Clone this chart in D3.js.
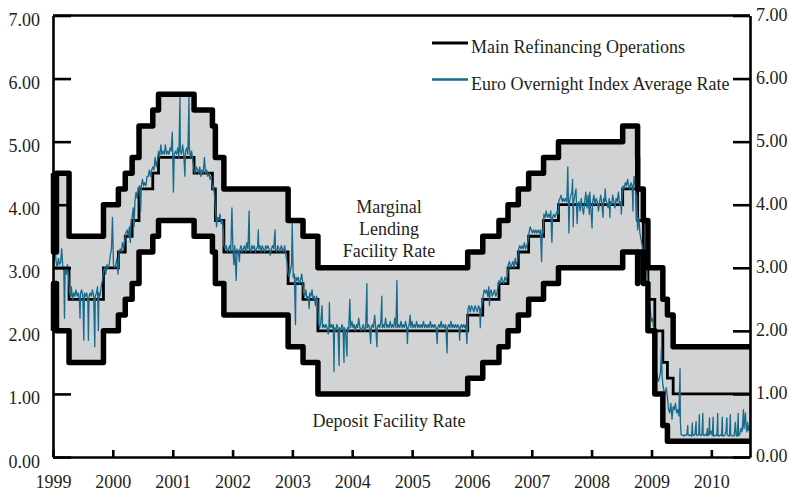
<!DOCTYPE html>
<html>
<head>
<meta charset="utf-8">
<script src="https://cdn.jsdelivr.net/npm/d3@7"></script>
<style>
  body { margin: 0; background: #fff; }
  svg text { font-family: "Liberation Serif", "DejaVu Serif", serif; fill: #231f20; }
</style>
</head>
<body>
<svg class="ecbRates" width="791" height="494"></svg>
<script>
// ECB policy rate corridor and EONIA, 1999-2010

// dates on which the official rates changed (last entry = end of chart)
var rateDates = ["1999-01-01","1999-01-04","1999-01-22","1999-04-09","1999-11-05",
    "2000-02-04","2000-03-17","2000-04-28","2000-06-09","2000-09-01","2000-10-06",
    "2001-05-11","2001-08-31","2001-09-18","2001-11-09","2002-12-06","2003-03-07","2003-06-06",
    "2005-12-06","2006-03-08","2006-06-15","2006-08-09","2006-10-11","2006-12-13",
    "2007-03-14","2007-06-13","2008-07-09","2008-10-08","2008-10-09","2008-11-12","2008-12-10",
    "2009-01-21","2009-03-11","2009-04-08","2009-05-13","2010-08-25"];
var depositRate = [2.00,2.75,2.00,1.50,2.00, 2.25,2.50,2.75,3.25,3.50,3.75,
    3.50,3.25,2.75,2.25,1.75,1.50,1.00, 1.25,1.50,1.75,2.00,2.25,2.50,
    2.75,3.00,3.25,2.75,3.25,2.75,2.00, 1.00,0.50,0.25,0.25,0.25];
var mroRate = [3.00,3.00,3.00,2.50,3.00, 3.25,3.50,3.75,4.25,4.50,4.75,
    4.50,4.25,3.75,3.25,2.75,2.50,2.00, 2.25,2.50,2.75,3.00,3.25,3.50,
    3.75,4.00,4.25,3.75,3.75,3.25,2.50, 2.00,1.50,1.25,1.00,1.00];
var marginalRate = [4.50,3.25,4.50,3.50,4.00, 4.25,4.50,4.75,5.25,5.50,5.75,
    5.50,5.25,4.75,4.25,3.75,3.50,3.00, 3.25,3.50,3.75,4.00,4.25,4.50,
    4.75,5.00,5.25,4.75,4.25,3.75,3.00, 3.00,2.50,2.25,1.75,1.75];

// Euro Overnight Index Average
var eonia = [
  ["1999-01-04",3.20],["1999-01-08",3.05],["1999-01-14",3.30],["1999-01-20",3.10],["1999-01-27",3.00],["1999-02-03",3.15],
  ["1999-02-10",3.05],["1999-02-17",3.10],["1999-02-23",3.30],["1999-03-01",3.05],["1999-03-08",2.95],["1999-03-12",2.20],
  ["1999-03-16",3.00],["1999-03-23",2.90],["1999-03-30",3.05],["1999-04-06",2.85],["1999-04-12",2.60],["1999-04-19",2.55],
  ["1999-04-23",2.70],["1999-04-30",2.50],["1999-05-07",2.60],["1999-05-14",2.55],["1999-05-21",2.65],["1999-05-28",2.55],
  ["1999-06-04",2.60],["1999-06-11",2.50],["1999-06-15",2.20],["1999-06-18",2.60],["1999-06-25",2.65],["1999-07-02",2.55],
  ["1999-07-08",1.85],["1999-07-12",2.60],["1999-07-19",2.55],["1999-07-26",2.60],["1999-08-02",2.45],["1999-08-05",1.85],
  ["1999-08-09",2.55],["1999-08-16",2.60],["1999-08-23",2.55],["1999-08-30",2.65],["1999-09-06",2.55],["1999-09-13",1.75],
  ["1999-09-16",2.55],["1999-09-23",2.60],["1999-09-30",2.70],["1999-10-05",2.00],["1999-10-08",2.60],["1999-10-15",2.55],
  ["1999-10-22",2.70],["1999-10-29",2.80],["1999-11-05",2.95],["1999-11-12",3.00],["1999-11-19",2.90],["1999-11-26",3.05],
  ["1999-12-03",3.00],["1999-12-10",3.05],["1999-12-17",3.20],["1999-12-24",3.30],["1999-12-30",3.80],
  ["2000-01-05",3.05],["2000-01-12",3.00],["2000-01-19",3.05],["2000-01-26",3.15],["2000-02-02",2.90],["2000-02-08",3.25],
  ["2000-02-15",3.30],["2000-02-22",3.25],["2000-02-29",3.40],["2000-03-07",3.30],["2000-03-14",3.45],["2000-03-21",3.55],
  ["2000-03-28",3.60],["2000-04-04",3.50],["2000-04-11",3.65],["2000-04-17",3.40],["2000-04-21",3.70],["2000-04-28",3.80],
  ["2000-05-05",3.95],["2000-05-10",3.65],["2000-05-15",4.05],["2000-05-22",4.20],["2000-05-29",4.10],["2000-06-05",4.25],
  ["2000-06-12",4.30],["2000-06-19",3.90],["2000-06-23",4.30],["2000-06-30",4.40],["2000-07-07",4.30],["2000-07-14",4.35],
  ["2000-07-21",4.30],["2000-07-28",4.45],["2000-08-04",4.45],["2000-08-11",4.55],["2000-08-18",4.45],["2000-08-25",4.55],
  ["2000-09-01",4.60],["2000-09-08",4.55],["2000-09-15",4.75],["2000-09-22",4.60],["2000-09-29",4.70],["2000-10-06",4.85],
  ["2000-10-13",4.75],["2000-10-20",4.95],["2000-10-27",4.80],["2000-11-03",4.85],["2000-11-10",4.80],["2000-11-17",4.95],
  ["2000-11-24",4.80],["2000-12-01",4.85],["2000-12-08",4.80],["2000-12-15",4.90],["2000-12-22",4.85],["2000-12-29",5.15],
  ["2001-01-05",4.20],["2001-01-10",4.80],["2001-01-17",4.85],["2001-01-24",4.80],["2001-01-31",4.90],["2001-02-07",4.75],
  ["2001-02-14",5.70],["2001-02-16",4.85],["2001-02-23",4.80],["2001-03-02",4.95],["2001-03-09",4.80],["2001-03-16",4.45],
  ["2001-03-20",4.85],["2001-03-27",4.90],["2001-04-03",4.80],["2001-04-10",5.70],["2001-04-12",4.90],["2001-04-19",4.75],
  ["2001-04-26",4.85],["2001-05-03",4.70],["2001-05-11",4.55],["2001-05-18",4.50],["2001-05-25",4.60],["2001-06-01",4.55],
  ["2001-06-08",4.50],["2001-06-15",4.60],["2001-06-22",4.45],["2001-06-29",4.55],["2001-07-06",4.50],["2001-07-13",4.75],
  ["2001-07-20",4.50],["2001-07-27",4.55],["2001-08-03",4.45],["2001-08-10",4.50],["2001-08-17",4.40],["2001-08-24",4.45],
  ["2001-08-31",4.25],["2001-09-07",4.30],["2001-09-14",4.10],["2001-09-18",3.95],["2001-09-25",3.65],["2001-10-02",3.80],
  ["2001-10-09",3.75],["2001-10-16",3.85],["2001-10-23",3.70],["2001-10-30",3.75],["2001-11-06",3.60],["2001-11-09",3.35],
  ["2001-11-16",3.30],["2001-11-23",3.35],["2001-11-30",3.25],["2001-12-07",3.30],["2001-12-14",3.35],["2001-12-21",3.25],
  ["2001-12-28",3.95],
  ["2002-01-03",3.30],["2002-01-09",3.05],["2002-01-14",3.35],["2002-01-23",2.80],["2002-01-28",3.30],["2002-02-04",3.25],
  ["2002-02-12",3.10],["2002-02-15",3.30],["2002-02-22",3.35],["2002-03-01",3.25],["2002-03-08",3.30],["2002-03-15",3.35],
  ["2002-03-22",3.25],["2002-03-29",3.40],["2002-04-05",3.30],["2002-04-12",3.90],["2002-04-15",3.30],["2002-04-22",3.25],
  ["2002-04-29",3.35],["2002-05-06",3.30],["2002-05-13",3.35],["2002-05-20",3.25],["2002-05-27",3.30],["2002-06-03",3.35],
  ["2002-06-07",3.60],["2002-06-10",3.30],["2002-06-17",3.35],["2002-06-24",3.25],["2002-07-01",3.35],["2002-07-08",3.30],
  ["2002-07-15",3.25],["2002-07-22",3.35],["2002-07-29",3.30],["2002-08-05",3.35],["2002-08-12",3.30],["2002-08-19",3.20],
  ["2002-08-26",3.30],["2002-09-02",3.35],["2002-09-09",3.30],["2002-09-17",3.60],["2002-09-20",3.30],["2002-09-27",3.25],
  ["2002-10-04",3.35],["2002-10-11",3.30],["2002-10-18",3.25],["2002-10-25",3.35],["2002-11-01",3.30],["2002-11-08",3.25],
  ["2002-11-15",3.35],["2002-11-22",3.20],["2002-11-29",3.10],["2002-12-06",2.90],["2002-12-13",2.85],["2002-12-20",2.95],
  ["2002-12-27",3.05],["2002-12-31",3.70],
  ["2003-01-06",2.85],["2003-01-13",2.90],["2003-01-20",2.10],["2003-01-23",2.85],["2003-01-30",2.80],["2003-02-06",2.85],
  ["2003-02-13",2.75],["2003-02-20",2.80],["2003-02-27",2.90],["2003-03-06",2.75],["2003-03-10",2.60],["2003-03-17",2.55],
  ["2003-03-24",2.65],["2003-03-31",2.50],["2003-04-07",2.55],["2003-04-14",2.35],["2003-04-17",2.60],["2003-04-24",2.55],
  ["2003-05-01",2.65],["2003-05-08",2.50],["2003-05-15",2.55],["2003-05-22",2.40],["2003-05-29",2.55],["2003-06-05",2.45],
  ["2003-06-10",2.10],["2003-06-17",2.05],["2003-06-24",2.15],["2003-07-01",2.40],["2003-07-04",2.05],["2003-07-11",2.10],
  ["2003-07-18",2.05],["2003-07-25",2.10],["2003-08-01",2.05],["2003-08-08",1.95],["2003-08-12",2.05],["2003-08-15",2.45],
  ["2003-08-18",2.05],["2003-08-25",2.10],["2003-09-01",2.05],["2003-09-08",2.10],["2003-09-12",1.35],["2003-09-15",2.05],
  ["2003-09-22",2.00],["2003-09-29",2.10],["2003-10-06",2.05],["2003-10-13",1.45],["2003-10-16",2.05],["2003-10-23",2.00],
  ["2003-10-30",2.10],["2003-11-06",2.05],["2003-11-12",1.50],["2003-11-14",2.05],["2003-11-21",2.00],["2003-11-30",1.60],
  ["2003-12-03",2.05],["2003-12-10",2.00],["2003-12-18",2.50],["2003-12-22",2.05],["2003-12-31",2.15],
  ["2004-01-06",2.05],["2004-01-13",2.10],["2004-01-20",2.00],["2004-01-27",2.10],["2004-02-03",2.05],["2004-02-10",2.20],
  ["2004-02-17",2.05],["2004-02-24",2.00],["2004-03-02",2.05],["2004-03-09",2.10],["2004-03-16",2.00],["2004-03-23",2.05],
  ["2004-03-31",2.75],["2004-04-02",2.05],["2004-04-09",2.10],["2004-04-16",2.05],["2004-04-23",1.80],["2004-04-26",2.05],
  ["2004-05-03",2.10],["2004-05-10",2.05],["2004-05-17",2.25],["2004-05-24",2.05],["2004-05-31",1.75],["2004-06-03",2.05],
  ["2004-06-10",2.10],["2004-06-17",2.05],["2004-06-24",2.15],["2004-06-30",2.55],["2004-07-02",2.05],["2004-07-09",2.10],
  ["2004-07-16",2.05],["2004-07-23",2.20],["2004-07-30",2.05],["2004-08-06",2.10],["2004-08-13",2.05],["2004-08-20",2.15],
  ["2004-08-27",2.05],["2004-09-03",2.10],["2004-09-10",2.05],["2004-09-17",2.20],["2004-09-24",2.05],["2004-09-30",2.80],
  ["2004-10-04",2.05],["2004-10-11",2.10],["2004-10-18",2.05],["2004-10-25",2.15],["2004-11-01",2.05],["2004-11-08",2.10],
  ["2004-11-15",2.05],["2004-11-22",2.15],["2004-11-29",2.05],["2004-12-03",1.80],["2004-12-07",2.05],["2004-12-14",2.10],
  ["2004-12-20",2.25],["2004-12-24",2.05],["2004-12-31",2.15],
  ["2005-01-07",2.05],["2005-01-14",2.10],["2005-01-21",2.05],["2005-01-28",2.15],["2005-02-04",2.05],["2005-02-11",2.10],
  ["2005-02-18",2.05],["2005-02-25",2.10],["2005-03-04",2.05],["2005-03-11",2.15],["2005-03-18",2.05],["2005-03-25",2.10],
  ["2005-04-01",2.05],["2005-04-08",2.10],["2005-04-15",2.05],["2005-04-22",2.15],["2005-04-29",2.05],["2005-05-06",2.10],
  ["2005-05-13",2.05],["2005-05-20",2.10],["2005-05-27",2.05],["2005-06-03",1.80],["2005-06-06",2.05],["2005-06-13",2.10],
  ["2005-06-20",2.05],["2005-06-27",2.15],["2005-07-04",2.05],["2005-07-11",2.10],["2005-07-18",2.05],["2005-07-25",2.10],
  ["2005-08-02",1.65],["2005-08-05",2.05],["2005-08-12",2.10],["2005-08-19",2.05],["2005-08-26",2.15],["2005-09-02",2.05],
  ["2005-09-09",2.10],["2005-09-16",2.05],["2005-09-23",2.10],["2005-09-30",2.05],["2005-10-07",2.10],["2005-10-14",2.05],
  ["2005-10-18",1.85],["2005-10-21",2.05],["2005-10-28",2.10],["2005-11-04",2.05],["2005-11-11",2.10],["2005-11-18",2.05],
  ["2005-11-25",2.10],["2005-12-01",1.80],["2005-12-05",2.10],["2005-12-08",2.35],["2005-12-15",2.40],["2005-12-22",2.30],
  ["2005-12-30",2.40],
  ["2006-01-06",2.35],["2006-01-13",2.30],["2006-01-20",2.40],["2006-01-27",2.35],["2006-02-03",2.30],["2006-02-10",2.40],
  ["2006-02-17",2.35],["2006-02-21",2.05],["2006-02-24",2.35],["2006-03-03",2.40],["2006-03-10",2.55],["2006-03-17",2.65],
  ["2006-03-24",2.60],["2006-03-31",2.65],["2006-04-07",2.55],["2006-04-14",2.70],["2006-04-18",2.40],["2006-04-21",2.60],
  ["2006-04-28",2.65],["2006-05-05",2.55],["2006-05-12",2.60],["2006-05-19",2.65],["2006-05-26",2.55],["2006-06-02",2.60],
  ["2006-06-09",2.70],["2006-06-16",2.80],["2006-06-23",2.75],["2006-06-30",2.85],["2006-07-07",2.80],["2006-07-14",2.75],
  ["2006-07-21",2.85],["2006-07-28",2.80],["2006-08-04",2.85],["2006-08-11",3.05],["2006-08-18",3.10],["2006-08-25",3.00],
  ["2006-09-01",3.05],["2006-09-08",3.10],["2006-09-15",3.00],["2006-09-22",3.15],["2006-09-29",3.05],["2006-10-06",3.10],
  ["2006-10-13",3.30],["2006-10-20",3.35],["2006-10-27",3.30],["2006-11-03",3.35],["2006-11-10",3.30],["2006-11-17",3.40],
  ["2006-11-24",3.30],["2006-12-01",3.35],["2006-12-08",3.40],["2006-12-15",3.55],["2006-12-22",3.65],["2006-12-29",3.60],
  ["2007-01-05",3.55],["2007-01-12",3.60],["2007-01-19",3.55],["2007-01-26",3.60],["2007-02-02",3.55],["2007-02-09",3.60],
  ["2007-02-16",3.55],["2007-02-23",3.60],["2007-03-02",3.10],["2007-03-06",3.60],["2007-03-13",3.55],["2007-03-16",3.85],
  ["2007-03-23",3.80],["2007-03-30",3.90],["2007-04-06",3.80],["2007-04-13",3.85],["2007-04-20",3.80],["2007-04-27",3.90],
  ["2007-05-04",3.40],["2007-05-08",3.80],["2007-05-15",3.85],["2007-05-22",3.80],["2007-05-29",3.85],["2007-06-05",3.90],
  ["2007-06-12",3.85],["2007-06-15",4.05],["2007-06-22",4.10],["2007-06-29",4.15],["2007-07-06",4.05],["2007-07-13",4.10],
  ["2007-07-20",4.05],["2007-07-27",4.10],["2007-08-03",4.05],["2007-08-09",4.60],["2007-08-16",3.55],["2007-08-20",4.05],
  ["2007-08-27",4.15],["2007-09-03",4.20],["2007-09-07",4.40],["2007-09-11",3.65],["2007-09-14",4.05],["2007-09-21",4.15],
  ["2007-09-28",4.25],["2007-10-05",3.70],["2007-10-09",3.95],["2007-10-16",4.05],["2007-10-23",3.90],["2007-10-30",4.10],
  ["2007-11-06",3.95],["2007-11-13",3.85],["2007-11-20",4.05],["2007-11-27",4.20],["2007-12-04",3.95],["2007-12-11",4.15],
  ["2007-12-18",3.85],["2007-12-21",4.20],["2007-12-28",3.92],
  ["2008-01-04",3.63],["2008-01-08",4.05],["2008-01-15",4.15],["2008-01-22",4.00],["2008-01-29",4.10],["2008-02-05",4.05],
  ["2008-02-12",3.90],["2008-02-19",4.05],["2008-02-26",4.15],["2008-03-04",4.00],["2008-03-11",3.80],["2008-03-14",4.10],
  ["2008-03-21",4.05],["2008-03-24",4.25],["2008-03-28",4.10],["2008-04-04",4.00],["2008-04-11",3.95],["2008-04-18",4.10],
  ["2008-04-22",3.80],["2008-04-25",4.05],["2008-05-02",4.00],["2008-05-09",4.15],["2008-05-16",4.05],["2008-05-23",3.95],
  ["2008-05-30",4.10],["2008-06-06",4.05],["2008-06-13",4.20],["2008-06-20",4.00],["2008-06-27",4.05],["2008-07-01",3.85],
  ["2008-07-04",4.05],["2008-07-11",4.30],["2008-07-18",4.25],["2008-07-25",4.35],["2008-08-01",4.30],["2008-08-08",4.40],
  ["2008-08-15",4.30],["2008-08-22",4.25],["2008-08-29",4.35],["2008-09-05",4.30],["2008-09-10",3.90],["2008-09-12",4.25],
  ["2008-09-17",4.45],["2008-09-24",4.30],["2008-09-30",3.75],["2008-10-03",4.15],["2008-10-08",3.60],["2008-10-15",3.80],
  ["2008-10-22",3.55],["2008-10-29",3.45],["2008-11-05",3.35],["2008-11-12",3.20],["2008-11-19",3.15],["2008-11-26",3.15],
  ["2008-12-03",3.05],["2008-12-10",2.65],["2008-12-17",2.45],["2008-12-24",2.35],["2008-12-31",2.15],
  ["2009-01-07",2.20],["2009-01-14",2.05],["2009-01-21",1.85],["2009-01-28",1.40],["2009-02-04",1.30],["2009-02-11",1.20],
  ["2009-02-18",1.25],["2009-02-25",1.35],["2009-03-03",1.75],["2009-03-06",1.30],["2009-03-11",1.15],["2009-03-18",1.05],
  ["2009-03-25",1.00],["2009-04-01",1.10],["2009-04-08",0.95],["2009-04-15",0.75],["2009-04-22",0.70],["2009-04-29",0.85],
  ["2009-05-06",0.60],["2009-05-13",0.80],["2009-05-20",0.75],["2009-05-27",0.85],["2009-06-03",0.70],["2009-06-10",0.75],
  ["2009-06-17",0.65],["2009-06-24",1.40],["2009-06-26",0.55],["2009-07-01",0.35],["2009-07-08",0.35],["2009-07-15",0.33],
  ["2009-07-22",0.35],["2009-07-29",0.34],["2009-08-05",0.36],["2009-08-10",0.50],["2009-08-12",0.35],["2009-08-19",0.34],
  ["2009-08-26",0.35],["2009-09-02",0.33],["2009-09-07",0.54],["2009-09-09",0.35],["2009-09-16",0.34],["2009-09-23",0.36],
  ["2009-09-30",0.56],["2009-10-02",0.35],["2009-10-09",0.34],["2009-10-16",0.36],["2009-10-20",0.67],["2009-10-22",0.35],
  ["2009-10-29",0.34],["2009-11-05",0.36],["2009-11-10",0.69],["2009-11-12",0.35],["2009-11-19",0.34],["2009-11-26",0.36],
  ["2009-12-03",0.34],["2009-12-08",0.45],["2009-12-10",0.34],["2009-12-17",0.35],["2009-12-21",0.62],["2009-12-23",0.36],
  ["2009-12-31",0.41],
  ["2010-01-07",0.34],["2010-01-12",0.63],["2010-01-14",0.34],["2010-01-21",0.33],["2010-01-28",0.35],["2010-02-04",0.34],
  ["2010-02-09",0.69],["2010-02-11",0.34],["2010-02-18",0.33],["2010-02-25",0.35],["2010-03-04",0.34],["2010-03-09",0.63],
  ["2010-03-11",0.34],["2010-03-18",0.33],["2010-03-25",0.35],["2010-03-31",0.40],["2010-04-06",0.62],["2010-04-08",0.35],
  ["2010-04-15",0.34],["2010-04-22",0.33],["2010-04-27",0.67],["2010-04-29",0.35],["2010-05-06",0.34],["2010-05-13",0.33],
  ["2010-05-20",0.34],["2010-05-28",0.55],["2010-06-01",0.34],["2010-06-08",0.33],["2010-06-14",0.69],["2010-06-16",0.34],
  ["2010-06-23",0.35],["2010-06-30",0.45],["2010-07-02",0.45],["2010-07-07",0.40],["2010-07-12",0.55],["2010-07-16",0.75],
  ["2010-07-19",0.45],["2010-07-23",0.55],["2010-07-28",0.70],["2010-08-02",0.45],["2010-08-06",0.40],["2010-08-11",0.55],
  ["2010-08-16",0.42],["2010-08-20",0.48],["2010-08-24",0.43]
];

var yearTicks = ["1999","2000","2001","2002","2003","2004","2005","2006","2007","2008","2009","2010"];
var rateTicks = [0, 1, 2, 3, 4, 5, 6, 7];
var legendItems = ["Main Refinancing Operations", "Euro Overnight Index Average Rate"];
var mlfLabel = ["Marginal", "Lending", "Facility Rate"];
var depositLabel = "Deposit Facility Rate";

var colorFill = "#d1d3d4",
    colorLine = "#000000",
    colorEonia = "#176a8b";

var svg = d3.select("svg.ecbRates"),
    plot = {left: 53, right: 750, top: 15.5, bottom: 457};

var parseDate = d3.timeParse("%Y-%m-%d");

var x = d3.scaleTime()
    .domain([parseDate("1999-01-01"), parseDate("2010-08-25")])
    .range([plot.left, plot.right]);
var y = d3.scaleLinear().domain([0, 7]).range([plot.bottom, plot.top]);

var rates = rateDates.map(function(d, i) {
    return {date: parseDate(d), dep: depositRate[i], mro: mroRate[i], mlf: marginalRate[i]};
});
var eoniaData = eonia.map(function(d) { return {date: parseDate(d[0]), value: d[1]}; });

// corridor fill
var corridor = d3.area()
    .curve(d3.curveStepAfter)
    .x(function(d) { return x(d.date); })
    .y0(function(d) { return y(d.dep); })
    .y1(function(d) { return y(d.mlf); });
svg.append("path")
    .attr("d", corridor(rates))
    .attr("fill", colorFill);

function stepLine(key) {
    return d3.line()
        .curve(d3.curveStepAfter)
        .x(function(d) { return x(d.date); })
        .y(function(d) { return y(d[key]); });
}

// main refinancing rate
svg.append("path")
    .attr("d", stepLine("mro")(rates))
    .attr("fill", "none")
    .attr("stroke", colorLine)
    .attr("stroke-width", 2.8);

// EONIA
var eoniaLine = d3.line()
    .x(function(d) { return x(d.date); })
    .y(function(d) { return y(d.value); });
svg.append("path")
    .attr("d", eoniaLine(eoniaData))
    .attr("fill", "none")
    .attr("stroke", colorEonia)
    .attr("stroke-width", 1.3)
    .attr("stroke-linejoin", "round");

// deposit and marginal lending: thick lines
["dep", "mlf"].forEach(function(k) {
    svg.append("path")
        .attr("d", stepLine(k)(rates))
        .attr("fill", "none")
        .attr("stroke", colorLine)
        .attr("stroke-width", 5.5)
        .attr("stroke-linejoin", "round");
});

//--Axes
var xAxis = d3.axisBottom(x)
    .tickValues(yearTicks.map(function(d) { return parseDate(d + "-01-01"); }))
    .tickFormat(d3.timeFormat("%Y"))
    .tickSize(-7)
    .tickSizeOuter(0);
var gx = svg.append("g")
    .attr("transform", "translate(0," + plot.bottom + ")")
    .call(xAxis);
gx.selectAll("text").attr("y", 31).attr("dy", null);

var gl = svg.append("g")
    .attr("transform", "translate(" + plot.left + ",0)")
    .call(d3.axisLeft(y).tickValues(rateTicks).tickFormat(d3.format(".2f")).tickSize(-18).tickSizeOuter(0));
gl.selectAll("text").attr("x", -13).attr("y", 10).attr("dy", null);

var gr = svg.append("g")
    .attr("transform", "translate(" + plot.right + ",0)")
    .call(d3.axisRight(y).tickValues(rateTicks).tickFormat(d3.format(".2f")).tickSize(-17).tickSizeOuter(0));
gr.selectAll("text").attr("x", 6).attr("y", 4.5).attr("dy", null);

[gx, gl, gr].forEach(function(g) {
    g.attr("font-family", null).attr("font-size", null);
    g.selectAll("text").style("font-size", "18px").attr("fill", "#231f20");
    g.selectAll("path, line").attr("stroke", colorLine).attr("stroke-width", 2.6);
});

// top border
svg.append("line")
    .attr("x1", plot.left).attr("x2", plot.right)
    .attr("y1", plot.top).attr("y2", plot.top)
    .attr("stroke", colorLine)
    .attr("stroke-width", 2.4);

//Legend
var legend = svg.append("g").attr("class", "legend");
legendItems.forEach(function(txt, i) {
    var ly = 43 + i * 36.5;
    legend.append("line")
        .attr("x1", 432).attr("x2", 468)
        .attr("y1", ly).attr("y2", ly)
        .attr("stroke", i === 0 ? colorLine : colorEonia)
        .attr("stroke-width", i === 0 ? 3 : 2.5);
    legend.append("text")
        .attr("x", 471)
        .attr("y", ly + 10)
        .style("font-size", "18px")
        .text(txt);
});

// corridor labels
svg.append("text")
    .attr("text-anchor", "middle")
    .style("font-size", "18px")
    .selectAll("tspan")
    .data(mlfLabel)
    .enter()
    .append("tspan")
    .attr("x", 389)
    .attr("y", function(d, i) { return 213 + i * 21.8; })
    .text(function(d) { return d; });

svg.append("text")
    .attr("x", 389)
    .attr("y", 426.5)
    .attr("text-anchor", "middle")
    .style("font-size", "18px")
    .text(depositLabel);
</script>
</body>
</html>
